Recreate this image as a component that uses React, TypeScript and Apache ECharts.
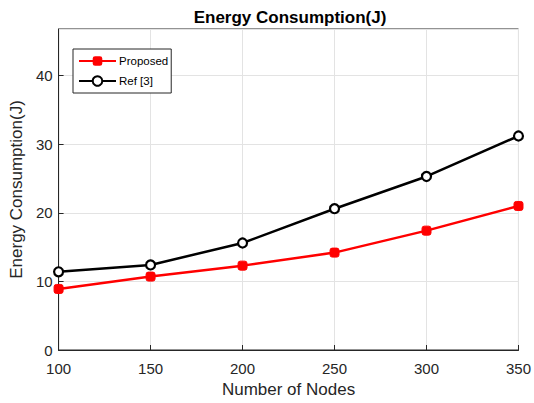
import React, { useEffect, useRef } from "react";
import * as echarts from "echarts";

const nodes = [100, 150, 200, 250, 300, 350];
const proposed = [8.9, 10.7, 12.3, 14.2, 17.4, 21.0];
const ref3 = [11.4, 12.4, 15.6, 20.6, 25.3, 31.2];
const seriesNames = ["Proposed", "Ref [3]"];

const FONT = "Liberation Sans, Arial, Helvetica, sans-serif";
const AX = "#262626";

export default function App() {
  const ref = useRef<HTMLDivElement>(null);
  useEffect(() => {
    document.body.style.margin = "0";
    const chart = echarts.init(ref.current!, null, { renderer: "svg" });
    chart.setOption({
      animation: false,
      backgroundColor: "#ffffff",
      title: {
        text: "Energy Consumption(J)",
        left: 285,
        textAlign: "center",
        top: 4,
        textStyle: { fontFamily: FONT, fontSize: 17, fontWeight: "bold", color: "#000" },
      },
      legend: {
        left: 73,
        top: 49,
        orient: "vertical",
        borderColor: AX,
        borderWidth: 1,
        backgroundColor: "#fff",
        padding: [6, 3, 6, 5],
        itemWidth: 37,
        itemHeight: 12,
        itemGap: 8,
        textStyle: { fontFamily: FONT, fontSize: 11.5, color: "#000", padding: [0, 0, 0, -2] },
        data: seriesNames,
      },
      grid: { left: 58, top: 29, right: 11, bottom: 50, show: true, borderColor: AX, borderWidth: 1 },
      xAxis: {
        type: "value",
        min: 100,
        max: 350,
        interval: 50,
        name: "Number of Nodes",
        nameLocation: "middle",
        nameGap: 31,
        nameTextStyle: { fontFamily: FONT, fontSize: 17, color: AX },
        axisLine: { show: true, lineStyle: { color: AX } },
        axisTick: { show: true, inside: true, length: 5, lineStyle: { color: AX } },
        axisLabel: { fontFamily: FONT, fontSize: 15, color: AX, margin: 11 },
        splitLine: { show: true, lineStyle: { color: "#e3e3e3", width: 1 } },
      },
      yAxis: {
        type: "value",
        min: 0,
        max: 46.8,
        interval: 10,
        name: "Energy Consumption(J)",
        nameLocation: "middle",
        nameGap: 30,
        nameTextStyle: { fontFamily: FONT, fontSize: 17, color: AX },
        axisLine: { show: true, lineStyle: { color: AX } },
        axisTick: { show: true, inside: true, length: 5, lineStyle: { color: AX } },
        axisLabel: {
          fontFamily: FONT,
          fontSize: 15,
          color: AX,
          margin: 6,
          showMaxLabel: false,
        },
        splitLine: { show: true, lineStyle: { color: "#e3e3e3", width: 1 } },
      },
      series: [
        {
          name: seriesNames[0],
          type: "line",
          data: nodes.map((n, i) => [n, proposed[i]]),
          lineStyle: { color: "#ff0000", width: 2.5 },
          itemStyle: { color: "#ff0000", borderColor: "#ff0000" },
          symbol: "roundRect",
          symbolSize: 9,
          z: 3,
        },
        {
          name: seriesNames[1],
          type: "line",
          data: nodes.map((n, i) => [n, ref3[i]]),
          lineStyle: { color: "#000000", width: 2.5 },
          itemStyle: { color: "#ffffff", borderColor: "#000000", borderWidth: 2.2 },
          symbol: "circle",
          symbolSize: 9,
          z: 4,
        },
      ],
    });
    return () => chart.dispose();
  }, []);
  return <div ref={ref} style={{ width: 534, height: 403 }} />;
}
